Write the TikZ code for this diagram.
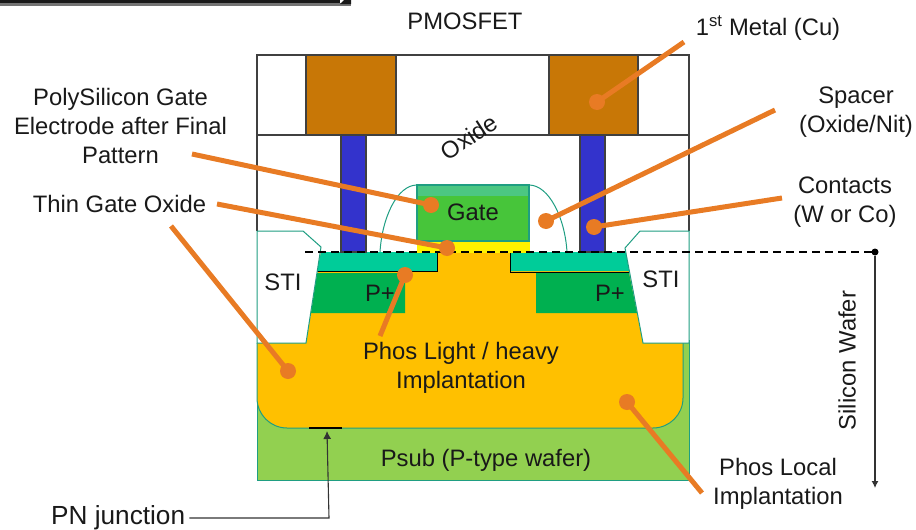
\documentclass[tikz,border=0pt]{standalone}
\usepackage{fontspec}
\setmainfont{Liberation Sans}
\usetikzlibrary{arrows.meta}
\definecolor{metal}{HTML}{C87706}
\definecolor{plug}{HTML}{3333CC}
\definecolor{psub}{HTML}{92D050}
\definecolor{phos}{HTML}{FFC000}
\definecolor{pplus}{HTML}{00B050}
\definecolor{sal}{HTML}{00CC99}
\definecolor{gategreen}{HTML}{47C53A}
\definecolor{gatetop}{HTML}{4CC782}
\definecolor{edge}{HTML}{1F9E82}
\definecolor{lead}{HTML}{E87B24}
\tikzset{
 lbl/.style={font=\fontsize{23.8}{29}\selectfont,align=center,inner sep=0pt,text=black!90},
 dot/.style={circle,fill=lead,minimum size=16pt,inner sep=0pt},
 leader/.style={draw=lead,line width=5pt},
 tealline/.style={draw=edge,line width=1pt},
 struct/.style={draw=black!75,line width=1.2pt},
}
\begin{document}
\begin{tikzpicture}[x=1pt,y=-1pt]
\useasboundingbox (0,0) rectangle (916,530);
% top bar
\fill[black!55] (0,3) rectangle (351,5.5);
\fill[black!90] (0,0) rectangle (340,3);
\fill[black!90] (340,4) -- (344,0) -- (351,0) -- (351,4) -- cycle;
% box
\draw[struct,fill=white] (257,55) rectangle (689,135);
\draw[struct] (257,135) -- (257,231);
\draw[struct] (689,135) -- (689,231);
% substrate
\fill[psub] (257,340) rectangle (689,480);
\draw[tealline] (257,340) -- (257,480) -- (689,480) -- (689,340);
% implant
\path[fill=phos] (257,343) -- (306,343) -- (321,252) -- (625,252) -- (643,343) -- (683,343) -- (683,398) arc[start angle=0,end angle=90,radius=30] -- (287,428) arc[start angle=90,end angle=180,radius=30] -- cycle;
\draw[tealline] (683,343) -- (683,398) arc[start angle=0,end angle=90,radius=30] -- (287,428) arc[start angle=90,end angle=180,radius=30] -- (257,343);
% P+
\fill[pplus] (317,273) -- (405,273) -- (405,313) -- (311,313) -- cycle;
\fill[pplus] (536,273) -- (629,273) -- (637,313) -- (536,313) -- cycle;
% salicide
\fill[sal] (321,252) -- (437,252) -- (437,271) -- (317,271) -- cycle;
\fill[sal] (510,252) -- (627,252) -- (630,271) -- (510,271) -- cycle;
\draw[black,line width=1pt] (437,252) -- (437,271) -- (317,271);
\draw[black,line width=1pt] (510,252) -- (510,272) -- (630,272);
% STI
\draw[tealline,fill=white] (257,231) -- (303,231) -- (321,247) -- (306,343) -- (257,343) -- cycle;
\draw[tealline,fill=white] (640,231) -- (689,231) -- (689,343) -- (643,343) -- (625,248) -- cycle;
% metal and plugs
\draw[struct,fill=metal] (306,55) rectangle (396,135);
\draw[struct,fill=metal] (549,55) rectangle (638,135);
\draw[struct,fill=plug] (341,135) rectangle (366,252);
\draw[struct,fill=plug] (580,135) rectangle (605,252);
% spacer
\draw[tealline] (417,185) .. controls (397,185) and (382,218) .. (380,252);
\draw[tealline] (529,185) .. controls (549,185) and (565,218) .. (567,252);
% gate
\fill[yellow] (417,241) rectangle (530,253);
\fill[gategreen] (417,185) rectangle (529,241);
\fill[gatetop] (417,185) rectangle (529,196);
\draw[tealline,line width=1.2pt] (417,241) rectangle (529,185);
% surface line
\coordinate (surfL) at (305,252);
\node[circle,fill=black,minimum size=7pt,inner sep=0pt] (surfdot) at (875,252) {};
\draw[black,line width=1.1pt,dash pattern=on 8pt off 5pt] (surfL) -- (surfdot.center);
\coordinate (waferEnd) at (875,488);
\draw[black!80,line width=1.1pt,-{Latex[length=7pt,width=7pt]}] (surfdot) -- (waferEnd);
% PN junction
\draw[black,line width=1.4pt] (309,428) -- (342,428);
\coordinate (pnTip) at (327,431);
\coordinate (pnCorner) at (329,518);
\node[lbl,font=\fontsize{26.2}{29}\selectfont,anchor=west] (pn) at (51,518) {PN junction};
\draw[black!80,line width=1.1pt,-{Latex[length=8pt,width=8pt]}] (pn.east) ++(4,0) -- (pnCorner) -- (pnTip);
% leaders
\node[dot] (d1) at (597,102) {};
\node[dot] (d2) at (546,221) {};
\node[dot] (d3) at (594,227) {};
\node[dot] (d4) at (431,205) {};
\node[dot] (d5) at (447,248) {};
\node[dot] (d6) at (288,371) {};
\node[dot] (d7) at (405,275) {};
\node[dot] (d8) at (627,402) {};
\coordinate (e1) at (684,42);
\coordinate (e2) at (775,110);
\coordinate (e3) at (782,198);
\coordinate (e4) at (192,154);
\coordinate (e5) at (217,204);
\coordinate (e6) at (171,226);
\coordinate (e7) at (380,336);
\coordinate (e8) at (702,493);
\draw[leader] (d1.center) -- (e1);
\draw[leader] (d2.center) -- (e2);
\draw[leader] (d3.center) -- (e3);
\draw[leader] (d4.center) -- (e4);
\draw[leader] (d5.center) -- (e5);
\draw[leader] (d6.center) -- (e6);
\draw[leader] (d7.center) -- (e7);
\draw[leader] (d8.center) -- (e8);
% text
\node[lbl] at (465,21) {PMOSFET};
\node[lbl] at (768,28) {1\textsuperscript{st} Metal (Cu)};
\node[lbl] at (120.5,126) {PolySilicon Gate\\Electrode after Final\\Pattern};
\node[lbl] at (119.5,204) {Thin Gate Oxide};
\node[lbl] at (856,112.5) {Spacer\\(Oxide/Nit)};
\node[lbl] at (845,202) {Contacts\\(W or Co)};
\node[lbl,rotate=33] at (469,137) {Oxide};
\node[lbl] at (473,212) {Gate};
\node[lbl] at (283,282) {STI};
\node[lbl] at (661,279) {STI};
\node[lbl] at (380,293.5) {P+};
\node[lbl] at (610,293.5) {P+};
\node[lbl] at (461,367.5) {Phos Light / heavy\\Implantation};
\node[lbl] at (486,460) {Psub (P-type wafer)};
\node[lbl] at (778,483.5) {Phos Local\\Implantation};
\node[lbl,rotate=90] at (847,360.5) {Silicon Wafer};
\end{tikzpicture}
\end{document}
